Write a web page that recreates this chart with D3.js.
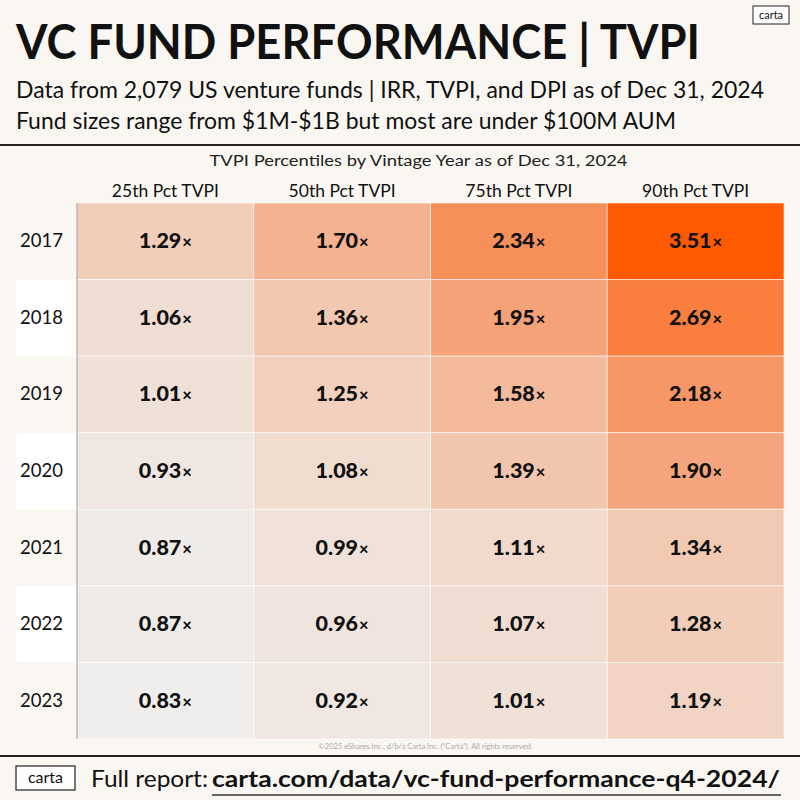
<!DOCTYPE html>
<html>
<head>
<meta charset="utf-8">
<script src="https://cdn.jsdelivr.net/npm/d3@7"></script>
<style>
  html, body { margin: 0; padding: 0; background: #faf7f2; }
  svg { display: block; font-family: Lato, "Noto Sans", sans-serif; }
</style>
</head>
<body>
<svg id="chart"></svg>
<script>
// Data
const years = ["2017", "2018", "2019", "2020", "2021", "2022", "2023"];
const columns = ["25th Pct TVPI", "50th Pct TVPI", "75th Pct TVPI", "90th Pct TVPI"];
const p25 = [1.29, 1.06, 1.01, 0.93, 0.87, 0.87, 0.83];
const p50 = [1.70, 1.36, 1.25, 1.08, 0.99, 0.96, 0.92];
const p75 = [2.34, 1.95, 1.58, 1.39, 1.11, 1.07, 1.01];
const p90 = [3.51, 2.69, 2.18, 1.90, 1.34, 1.28, 1.19];

const width = 800;
const height = 800;
const gridLeft = 77, gridRight = 784, gridTop = 203, gridBottom = 739;

const svg = d3.select("#chart")
    .attr("width", width)
    .attr("height", height)
    .attr("viewBox", [0, 0, width, height]);

svg.append("rect").attr("width", width).attr("height", height).attr("fill", "#faf7f2");

// Header
svg.append("text")
    .attr("x", 16).attr("y", 59)
    .attr("font-size", 48).attr("font-weight", 700)
    .attr("fill", "#111")
    .attr("textLength", 684).attr("lengthAdjust", "spacingAndGlyphs")
    .text("VC FUND PERFORMANCE | TVPI");

svg.append("text")
    .attr("x", 16).attr("y", 98)
    .attr("font-size", 23).attr("fill", "#111")
    .attr("textLength", 748).attr("lengthAdjust", "spacingAndGlyphs")
    .text("Data from 2,079 US venture funds | IRR, TVPI, and DPI as of Dec 31, 2024");

svg.append("text")
    .attr("x", 16).attr("y", 129)
    .attr("font-size", 23).attr("fill", "#111")
    .attr("textLength", 660).attr("lengthAdjust", "spacingAndGlyphs")
    .text("Fund sizes range from $1M-$1B but most are under $100M AUM");

svg.append("line")
    .attr("x1", 0).attr("x2", width).attr("y1", 145).attr("y2", 145)
    .attr("stroke", "#222").attr("stroke-width", 2);

// Top-right logo
const logo = svg.append("g").attr("transform", "translate(753,6)");
logo.append("rect").attr("width", 36).attr("height", 18)
    .attr("fill", "#fff").attr("stroke", "#222").attr("stroke-width", 1);
logo.append("text").attr("x", 18).attr("y", 13).attr("text-anchor", "middle")
    .attr("font-size", 11).attr("fill", "#111").text("carta");

// Chart subtitle
svg.append("text")
    .attr("x", (gridLeft + gridRight) / 2 - 12).attr("y", 166)
    .attr("text-anchor", "middle").attr("font-size", 15.5).attr("fill", "#222")
    .attr("textLength", 418).attr("lengthAdjust", "spacingAndGlyphs")
    .text("TVPI Percentiles by Vintage Year as of Dec 31, 2024");

// Scales
const x = d3.scaleBand().domain(columns).range([gridLeft, gridRight]);
const y = d3.scaleBand().domain(years).range([gridTop, gridBottom]);
const color = d3.scaleLinear()
    .domain([0.83, 1.3, 2.0, 3.51])
    .range(["#efeeed", "#f2ccb7", "#f59f73", "#ff5a00"])
    .clamp(true);

const series = [p25, p50, p75, p90];
const cells = [];
years.forEach((yr, i) => {
    columns.forEach((c, j) => cells.push({ year: yr, col: c, value: series[j][i] }));
});

// Column headers
svg.append("g").selectAll("text")
    .data(columns)
    .join("text")
    .attr("x", d => x(d) + x.bandwidth() / 2)
    .attr("y", 197)
    .attr("text-anchor", "middle")
    .attr("font-size", 17.5).attr("fill", "#111")
    .text(d => d);

// Row label bands (alternating)
svg.append("g").selectAll("rect")
    .data(years)
    .join("rect")
    .attr("x", 16).attr("y", d => y(d))
    .attr("width", gridLeft - 16).attr("height", y.bandwidth())
    .attr("fill", (d, i) => i % 2 === 1 ? "#ffffff" : "#faf7f2");

svg.append("g").selectAll("text")
    .data(years)
    .join("text")
    .attr("x", 20).attr("y", d => y(d) + y.bandwidth() / 2 + 6)
    .attr("font-size", 18.5).attr("fill", "#111")
    .text(d => d);

// Cells
svg.append("g").selectAll("rect")
    .data(cells)
    .join("rect")
    .attr("x", d => x(d.col)).attr("y", d => y(d.year))
    .attr("width", x.bandwidth()).attr("height", y.bandwidth())
    .attr("fill", d => color(d.value))
    .attr("stroke", "rgba(255,255,255,0.55)").attr("stroke-width", 1);

const labels = svg.append("g").selectAll("text")
    .data(cells)
    .join("text")
    .attr("x", d => x(d.col) + x.bandwidth() / 2)
    .attr("y", d => y(d.year) + y.bandwidth() / 2 + 7)
    .attr("text-anchor", "middle")
    .attr("fill", "#111").attr("font-weight", 900);
labels.append("tspan").attr("font-size", 21.5).text(d => d.value.toFixed(2));
labels.append("tspan").attr("font-size", 16.5).attr("dx", 1).text("×");

// Left border of the grid
svg.append("line")
    .attr("x1", gridLeft).attr("x2", gridLeft).attr("y1", gridTop).attr("y2", gridBottom)
    .attr("stroke", "#999").attr("stroke-width", 1);

// Footer
svg.append("text")
    .attr("x", (gridLeft + gridRight) / 2 - 5).attr("y", 749)
    .attr("text-anchor", "middle").attr("font-size", 7.5).attr("fill", "#aaa")
    .text("©2025 eShares Inc., d/b/a Carta Inc. (“Carta”). All rights reserved.");

svg.append("line")
    .attr("x1", 0).attr("x2", width).attr("y1", 756).attr("y2", 756)
    .attr("stroke", "#222").attr("stroke-width", 2);

const flogo = svg.append("g").attr("transform", "translate(16,766)");
flogo.append("rect").attr("width", 59).attr("height", 24)
    .attr("fill", "#fff").attr("stroke", "#222").attr("stroke-width", 1.2);
flogo.append("text").attr("x", 29.5).attr("y", 17).attr("text-anchor", "middle")
    .attr("font-size", 16).attr("fill", "#111").text("carta");

svg.append("text")
    .attr("x", 91).attr("y", 787)
    .attr("font-size", 23).attr("fill", "#111")
    .attr("textLength", 117).attr("lengthAdjust", "spacingAndGlyphs")
    .text("Full report:");

svg.append("text")
    .attr("x", 212).attr("y", 787)
    .attr("font-size", 23).attr("font-weight", 700).attr("fill", "#111")
    .attr("textLength", 568).attr("lengthAdjust", "spacingAndGlyphs")
    .text("carta.com/data/vc-fund-performance-q4-2024/");

svg.append("line")
    .attr("x1", 212).attr("x2", 781).attr("y1", 795).attr("y2", 795)
    .attr("stroke", "#666").attr("stroke-width", 2);
</script>
</body>
</html>
